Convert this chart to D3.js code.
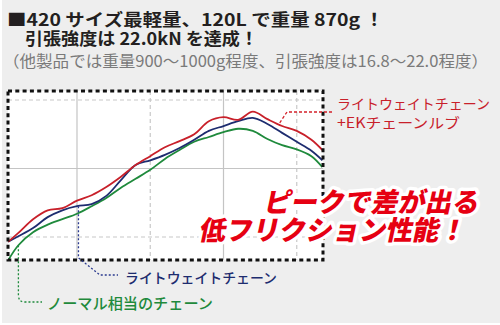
<!DOCTYPE html>
<html><head><meta charset="utf-8">
<script src="https://cdn.jsdelivr.net/npm/d3@7/dist/d3.min.js"></script>
<style>html,body{margin:0;padding:0;background:#fff;}svg{display:block;}</style>
</head><body>
<script>
// ---- data ----
const xValues = [0.06,0.2,0.4,0.6,0.8,1.0,1.2,1.4,1.6,1.8,2.0,2.2,2.4,2.6,2.8,3.0,3.2,3.4,3.6,3.8,4.0,4.2,4.35];
const redValues = [0.93,1.06,1.26,1.39,1.42,1.53,1.61,1.73,1.88,2.05,2.18,2.31,2.40,2.50,2.69,2.75,2.71,2.83,2.72,2.62,2.55,2.42,2.27];
const blueValues = [0.93,1.01,1.13,1.29,1.39,1.45,1.48,1.60,1.83,2.05,2.12,2.20,2.30,2.42,2.55,2.62,2.69,2.74,2.65,2.52,2.39,2.26,2.12];
const greenValues = [0.66,0.88,1.07,1.18,1.26,1.34,1.45,1.57,1.72,1.85,1.98,2.14,2.27,2.39,2.46,2.53,2.58,2.55,2.43,2.34,2.28,2.18,2.02];
const xGrid = [1,2,3,4];
const yGrid = [1,2,3];
const titleLines = ["■420 サイズ最軽量、120L で重量 870g ！", "引張強度は 22.0kN を達成！"];
const subTitle = "（他製品では重量900～1000g程度、引張強度は16.8～22.0程度）";
const redLabel = ["ライトウェイトチェーン", "+EKチェーンルブ"];
const blueLabel = "ライトウェイトチェーン";
const greenLabel = "ノーマル相当のチェーン";
const bigText = ["ピークで差が出る", "低フリクション性能！"];

const W = 500, H = 325;
const svg = d3.select("body").append("svg").attr("width", W).attr("height", H);
svg.append("rect").attr("x",2).attr("y",0).attr("width",W-2).attr("height",323).attr("fill","#eeeeee");

const box = {x0: 8, y0: 91, x1: 323, y1: 260};
const x = d3.scaleLinear().domain([0,4]).range([3.75, 296.75]);
const y = d3.scaleLinear().domain([1,3]).range([237, 100]);

svg.append("rect").attr("x",box.x0).attr("y",box.y0).attr("width",box.x1-box.x0).attr("height",box.y1-box.y0).attr("fill","#fff");

// grid
const g = svg.append("g");
xGrid.forEach((v,i)=>{
  g.append("line").attr("x1",x(v)).attr("x2",x(v)).attr("y1",box.y0).attr("y2",box.y1)
   .attr("stroke", i%2===0 ? "#c4c4c4" : "#c8c8c8").attr("stroke-width",1.2)
   .attr("stroke-dasharray", i%2===0 ? null : "4,3");
});
yGrid.forEach((v)=>{
  g.append("line").attr("x1",box.x0).attr("x2",box.x1).attr("y1",y(v)).attr("y2",y(v))
   .attr("stroke", v===2 ? "#c4c4c4" : "#c8c8c8").attr("stroke-width",1.2)
   .attr("stroke-dasharray", v===2 ? null : "4,3");
});

// clip
svg.append("clipPath").attr("id","clip").append("rect")
  .attr("x",box.x0).attr("y",box.y0).attr("width",box.x1-box.x0).attr("height",box.y1-box.y0);

const line = d3.line().x((d,i)=>x(xValues[i])).y(d=>y(d)).curve(d3.curveCatmullRom.alpha(0.5));
const series = [
  {vals: greenValues, color: "#1f8a3c"},
  {vals: blueValues, color: "#1d2c6f"},
  {vals: redValues, color: "#c8202a"}
];
series.forEach(s=>{
  svg.append("path").attr("d", line(s.vals)).attr("fill","none").attr("stroke",s.color)
    .attr("stroke-width",1.8).attr("clip-path","url(#clip)");
});

// dotted border
svg.append("rect").attr("x",box.x0).attr("y",box.y0).attr("width",box.x1-box.x0).attr("height",box.y1-box.y0)
  .attr("fill","none").attr("stroke","#111").attr("stroke-width",3).attr("stroke-dasharray","4,3.3");

// leaders
const redPt = [x(3.75), y(2.64)];
svg.append("path").attr("d", `M${box.x1+9},112 L287,112 L${redPt[0]},${redPt[1]}`)
  .attr("fill","none").attr("stroke","#d4222b").attr("stroke-width",1.3).attr("stroke-dasharray","3,2");
const bx = x(1.02), by = y(blueValues[5]);
svg.append("path").attr("d", `M${bx},${by} L${bx},258 L100,275 L118,275`)
  .attr("fill","none").attr("stroke","#2a3a8f").attr("stroke-width",1.3).attr("stroke-dasharray","2,2");
const gx = x(0.2), gy = y(greenValues[1]);
svg.append("path").attr("d", `M${gx},${gy} L${gx},295 Q${gx},302 25,302 L42,302`)
  .attr("fill","none").attr("stroke","#1f8a3c").attr("stroke-width",1.3).attr("stroke-dasharray","2,2");

const jp = "'Noto Sans CJK JP', 'Noto Sans', sans-serif";
function txt(t, xx, yy, size, weight, color, len){
  const e = svg.append("text").attr("x",xx).attr("y",yy).text(t)
    .attr("font-family", jp).attr("font-size",size).attr("font-weight",weight).attr("fill",color);
  if(len) e.attr("textLength",len).attr("lengthAdjust","spacingAndGlyphs");
  return e;
}
// titles
txt(titleLines[0], 7, 26, 16.5, 700, "#231f20", 377);
txt(titleLines[1], 25, 45, 16.5, 700, "#231f20", 233);
txt(subTitle, 3, 67, 15.5, 400, "#7a7a7a", 485);

// labels
txt(redLabel[0], 337, 109, 14, 400, "#c8202a", 153);
txt(redLabel[1], 337, 127.5, 14, 400, "#c8202a", 123);
txt(blueLabel, 125, 283, 14, 500, "#1d2c6f", 152);
txt(greenLabel, 47, 308.5, 15, 500, "#1f8a3c", 166);

// big text
function big(t, xx, yy, len){
  const gg = svg.append("g").attr("transform",`translate(${xx},${yy}) skewX(-12)`);
  gg.append("text").attr("x",0).attr("y",0).text(t)
    .attr("font-family", jp).attr("font-size",27).attr("font-weight",900)
    .attr("fill","#e60012").attr("stroke","#fff").attr("stroke-width",7)
    .attr("stroke-linejoin","round").attr("paint-order","stroke")
    .attr("textLength",len).attr("lengthAdjust","spacingAndGlyphs");
}
big(bigText[0], 263, 212, 215);
big(bigText[1], 198, 240, 267);
</script>
</body></html>
